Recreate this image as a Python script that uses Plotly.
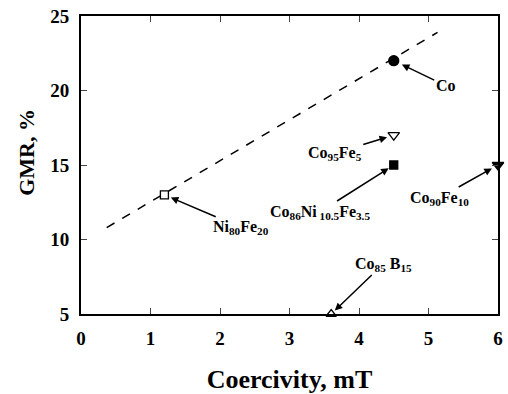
import plotly.graph_objects as go

# Data
names = ["Ni<sub>80</sub>Fe<sub>20</sub>", "Co", "Co<sub>95</sub>Fe<sub>5</sub>",
         "Co<sub>86</sub>Ni<sub> 10.5</sub>Fe<sub>3.5</sub>", "Co<sub>90</sub>Fe<sub>10</sub>",
         "Co<sub>85</sub> B<sub>15</sub>"]
coercivity = [1.2, 4.5, 4.5, 4.5, 6.0, 3.6]
gmr = [13.0, 22.0, 17.0, 15.0, 15.0, 5.0]
symbols = ["square-open", "circle", "triangle-down-open", "square", "triangle-down", "triangle-up-open"]
sizes = [8, 10, 10, 8, 10, 9]
# label offsets in pixels (text center relative to point)
label_dx = [77, 52, -59, -74, -59, 52]
label_dy = [33, 25, 18, 47, 33, -50]
standoffs = [7, 9, 7, 6, 7, 5]

trend_x = [0.37, 5.13]
trend_y = [10.8, 23.9]

x_ticks = [0, 1, 2, 3, 4, 5, 6]
y_ticks = [5, 10, 15, 20, 25]

FONT = "Liberation Serif"

fig = go.Figure()
fig.add_trace(go.Scatter(x=trend_x, y=trend_y, mode="lines",
                         line=dict(color="black", width=1.5, dash="dash"),
                         showlegend=False, hoverinfo="skip"))
for i in range(len(names)):
    fig.add_trace(go.Scatter(x=[coercivity[i]], y=[gmr[i]], mode="markers",
                             marker=dict(symbol=symbols[i], size=sizes[i], color="black",
                                         line=dict(color="black", width=1.3)),
                             showlegend=False, cliponaxis=False))
    fig.add_annotation(x=coercivity[i], y=gmr[i], xref="x", yref="y",
                       ax=label_dx[i], ay=label_dy[i], axref="pixel", ayref="pixel",
                       text=names[i], showarrow=True, arrowhead=2, arrowsize=1,
                       arrowwidth=1.5, arrowcolor="black", standoff=standoffs[i],
                       font=dict(family=FONT, size=16, color="black", weight="bold"))

fig.add_annotation(x=(25 - 81) / 422, y=0.5 + 13 / 301, xref="paper", yref="paper",
                   xanchor="center", yanchor="middle", textangle=-90,
                   text="GMR, %", showarrow=False,
                   font=dict(family=FONT, size=22, color="black", weight="bold"))

fig.update_layout(
    width=508, height=394,
    margin=dict(l=81, r=5, t=16, b=77),
    paper_bgcolor="white", plot_bgcolor="white",
    font=dict(family=FONT, size=19, color="black", weight="bold"),
    xaxis=dict(range=[0, 6], tickvals=x_ticks, ticks="inside", ticklen=6, tickwidth=1.2,
               showline=True, linewidth=2, linecolor="black", mirror="ticks",
               showgrid=False, zeroline=False, ticklabelstandoff=6,
               title=dict(text="Coercivity, mT", standoff=22,
                          font=dict(family=FONT, size=26, color="black", weight="bold"))),
    yaxis=dict(range=[5, 25], tickvals=y_ticks, ticks="inside", ticklen=6, tickwidth=1.2,
               showline=True, linewidth=2, linecolor="black", mirror="ticks",
               showgrid=False, zeroline=False, ticklabelstandoff=6),
)

fig.write_html("out.html")
